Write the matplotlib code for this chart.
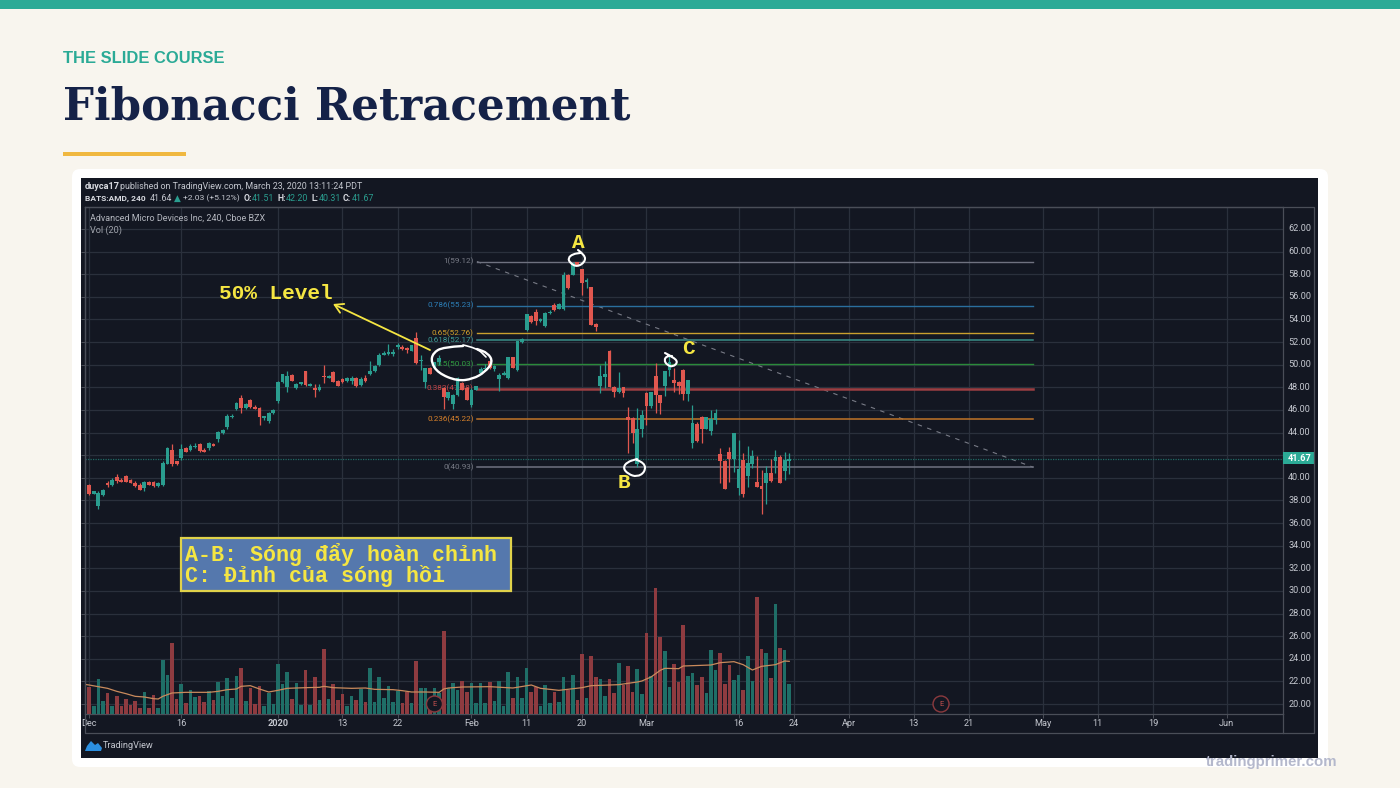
"""Fibonacci retracement slide: AMD 240 candles with fib levels and volume pane"""

import matplotlib
matplotlib.use("Agg")
import matplotlib.pyplot as plt
from matplotlib.patches import FancyBboxPatch, PathPatch, Polygon, Rectangle, Circle
from matplotlib.path import Path

# candles, one (open, high, low, close) per 240 bar
OPENS = [39.3, 39.4, 38.6, 37.5, 38.5, 39.55, 39.4, 40.05, 39.85, 40.2, 39.8, 39.55, 39.4, 39.1, 39.6, 39.6, 39.3, 39.35,
         41.25, 42.5, 41.45, 41.75, 42.6, 42.5, 42.75, 42.95, 42.5, 42.65, 43.0, 43.4, 43.95, 44.5, 45.35, 46.1, 47.05,
         46.2, 46.9, 46.3, 46.2, 45.3, 45.0, 45.7, 46.75, 48.45, 48.05, 49.1, 47.95, 48.25, 49.4, 48.15, 47.95, 47.8,
         49.0, 48.85, 49.35, 48.55, 48.75, 48.6, 48.6, 48.8, 48.2, 48.85, 49.15, 49.4, 50.0, 50.9, 50.95, 50.95, 51.55,
         51.6, 51.5, 51.25, 52.35, 50.3, 48.5, 49.7, 49.7, 50.2, 47.95, 47.05, 46.5, 47.3, 48.4, 47.95, 46.4, 47.8,
         49.25, 49.6, 50.35, 49.65, 48.75, 49.1, 48.85, 50.65, 49.5, 52.0, 53.1, 54.3, 54.65, 53.85, 53.4, 54.55, 55.3,
         54.95, 54.95, 57.9, 57.95, 59.1, 58.45, 57.3, 56.85, 53.6, 48.1, 48.95, 51.25, 48.05, 47.55, 48.0, 45.4, 45.25,
         41.2, 44.3, 47.5, 46.35, 49.0, 47.3, 48.15, 49.5, 48.65, 48.5, 49.55, 47.45, 43.1, 44.8, 45.4, 44.35, 44.15,
         45.1, 42.1, 41.5, 42.25, 41.65, 39.1, 41.6, 40.15, 41.2, 39.65, 39.3, 39.5, 40.4, 41.5, 41.85, 40.6, 41.51]
HIGHS = [39.5, 39.45, 38.8, 38.8, 39.05, 39.75, 39.95, 40.3, 39.95, 40.25, 39.9, 39.7, 39.5, 39.75, 39.7, 39.7, 39.6, 41.5,
         42.7, 43.0, 41.5, 42.95, 42.7, 43.0, 43.1, 43.1, 42.6, 43.15, 43.1, 44.1, 44.3, 45.6, 45.6, 46.7, 47.35,
         46.6, 47.0, 46.4, 46.3, 45.5, 45.85, 46.05, 48.55, 49.2, 49.4, 49.2, 48.4, 48.5, 49.45, 48.35, 48.25, 48.3,
         50.0, 49.1, 49.4, 48.65, 48.85, 48.95, 49.0, 48.95, 48.9, 49.05, 50.3, 49.95, 51.0, 51.2, 51.85, 51.4, 51.9,
         51.7, 51.6, 51.75, 52.9, 50.9, 49.75, 49.8, 50.25, 50.9, 48.05, 47.6, 47.4, 48.9, 48.5, 48.0, 47.9, 48.15,
         49.8, 50.05, 50.45, 49.95, 49.25, 49.4, 50.7, 50.7, 52.1, 52.35, 54.5, 54.4, 54.9, 54.1, 54.7, 54.8, 55.45,
         55.45, 58.15, 58.0, 59.0, 59.12, 58.5, 57.7, 56.9, 53.65, 50.0, 50.3, 51.3, 48.1, 49.35, 48.05, 46.3, 45.35,
         46.15, 46.0, 47.55, 47.55, 50.15, 47.35, 49.4, 50.75, 49.7, 48.55, 49.6, 48.65, 46.45, 44.9, 45.45, 45.4, 46.0,
         46.05, 42.6, 41.55, 42.75, 44.0, 43.3, 42.15, 42.85, 42.45, 41.95, 40.7, 41.05, 41.65, 42.5, 42.0, 42.3, 42.2]
LOWS = [39.2, 38.5, 38.55, 37.25, 38.35, 39.15, 39.25, 39.55, 39.6, 39.6, 39.5, 39.15, 38.9, 38.8, 39.35, 39.2, 39.2, 39.3,
        41.2, 41.0, 41.15, 41.6, 42.25, 42.4, 42.6, 42.3, 42.25, 42.5, 42.8, 43.15, 43.85, 44.35, 45.3, 46.0, 45.75,
        46.1, 46.15, 46.05, 44.65, 45.1, 44.85, 45.65, 46.6, 48.4, 47.6, 48.55, 47.85, 48.2, 48.15, 48.1, 47.1, 47.65,
        48.4, 48.8, 48.45, 48.1, 48.4, 48.5, 48.3, 48.05, 48.1, 48.5, 49.05, 49.35, 49.85, 50.85, 50.9, 50.8, 51.4,
        51.3, 51.0, 51.2, 50.05, 49.55, 47.95, 49.2, 49.65, 49.95, 46.1, 46.9, 46.1, 47.25, 47.75, 46.85, 46.3, 47.75,
        49.15, 49.5, 49.6, 49.4, 47.7, 49.05, 48.7, 49.7, 49.4, 51.95, 53.0, 53.7, 53.5, 53.8, 53.3, 54.5, 54.75,
        54.9, 54.85, 56.65, 57.9, 58.8, 56.15, 56.8, 53.5, 53.0, 47.5, 47.95, 48.0, 47.1, 47.5, 47.15, 42.2, 43.05,
        40.93, 43.65, 44.65, 46.15, 45.7, 45.6, 47.2, 49.0, 47.6, 47.45, 46.9, 46.8, 42.6, 43.2, 43.05, 44.3, 43.75,
        44.8, 39.5, 39.0, 39.65, 40.55, 38.5, 38.3, 39.2, 40.85, 39.15, 36.8, 37.7, 39.65, 40.4, 39.55, 39.8, 40.31]
CLOSES = [39.4, 38.6, 38.8, 38.65, 38.95, 39.35, 39.85, 39.7, 39.65, 39.65, 39.55, 39.3, 38.95, 39.65, 39.4, 39.3, 39.55, 41.3,
          42.65, 41.2, 41.2, 42.55, 42.3, 42.8, 42.85, 42.4, 42.3, 43.05, 42.85, 44.05, 44.25, 45.45, 45.5, 46.6, 46.2,
          46.55, 46.25, 46.1, 45.35, 45.45, 45.7, 46.0, 48.45, 49.15, 49.0, 48.6, 48.3, 48.45, 48.2, 48.3, 47.8, 48.0,
          48.9, 49.0, 48.5, 48.15, 48.5, 48.85, 48.85, 48.1, 48.7, 48.55, 49.4, 49.85, 50.9, 51.05, 51.1, 51.1, 51.7,
          51.35, 51.3, 51.7, 50.15, 50.45, 49.7, 49.2, 50.2, 50.6, 47.15, 47.55, 47.35, 48.8, 47.8, 46.9, 47.8, 48.1,
          49.6, 49.75, 49.7, 49.85, 49.1, 49.3, 50.65, 49.7, 52.05, 52.3, 54.45, 53.8, 53.85, 54.0, 54.6, 54.7, 54.8,
          55.4, 57.9, 56.8, 59.0, 58.85, 57.2, 57.45, 53.55, 53.3, 49.0, 49.2, 48.05, 47.6, 47.95, 47.5, 45.1, 44.0,
          44.3, 45.55, 46.35, 47.55, 47.3, 46.65, 49.4, 50.2, 48.4, 48.15, 47.45, 48.65, 44.85, 43.25, 44.3, 45.35, 45.2,
          45.75, 41.45, 39.0, 41.65, 43.95, 40.75, 38.55, 41.3, 41.9, 39.2, 39.05, 40.4, 39.7, 41.8, 39.55, 41.6, 41.67]

VOLUMES = [53, 81, 23, 106, 40, 63, 23, 53, 23, 46, 27, 40, 19, 66, 17, 57, 19, 163, 116, 212, 45, 90, 33, 73, 50, 55,
           37, 70, 43, 97, 53, 107, 47, 115, 139, 40, 78, 29, 83, 25, 62, 29, 151, 91, 126, 45, 92, 27, 131, 27, 111, 43,
           196, 45, 91, 41, 60, 25, 55, 42, 75, 35, 139, 35, 111, 49, 83, 35, 70, 33, 66, 33, 160, 78, 78, 28, 78, 63,
           248, 78, 93, 71, 98, 67, 93, 33, 93, 33, 96, 39, 99, 25, 125, 48, 111, 49, 139, 67, 81, 25, 87, 33, 66, 35,
           111, 71, 116, 43, 181, 47, 175, 111, 106, 55, 104, 62, 153, 87, 145, 67, 135, 61, 243, 113, 378, 231, 190, 82,
           151, 97, 267, 115, 123, 86, 112, 62, 192, 133, 183, 91, 148, 103, 116, 73, 173, 99, 351, 194, 183, 108, 331,
           198, 191, 91]

# Vol (20) average, read at these bars only
MA_BARS = [0, 1, 3, 5, 7, 9, 11, 13, 15, 16, 17, 19, 22, 27, 29, 31, 33, 34, 36, 38, 40, 42, 44, 48, 51, 52, 54, 58, 61,
           63, 67, 69, 71, 74, 77, 78, 79, 82, 88, 93, 97, 99, 103, 108, 110, 116, 120, 121, 123, 125, 126, 129, 130, 136,
           138, 141, 143, 145, 147, 150, 152, 153]
MA_VALUES = [89, 87, 82, 77, 68, 61, 53, 51, 46, 45, 53, 63, 65, 65, 68, 73, 75, 83, 85, 75, 66, 71, 77, 79, 80, 83, 79,
             77, 78, 74, 73, 70, 66, 66, 65, 75, 78, 81, 82, 78, 87, 77, 71, 79, 85, 88, 96, 99, 111, 131, 137, 136, 144,
             147, 154, 157, 148, 132, 143, 148, 159, 158]

# fibonacci tool
FIB_RATIOS = ["1", "0.786", "0.65", "0.618", "0.5", "0.382", "0.236", "0"]
FIB_PRICES = [59.12, 55.23, 52.76, 52.17, 50.03, 47.88, 45.22, 40.93]
FIB_COLORS = ["#6F7280", "#2A6F9E", "#C9A02E", "#3A8F88", "#2A8A3A", "#9C3E42", "#C07428", "#6F7280"]
FIB_LABEL_COLORS = ["#787B86", "#2C7FB8", "#D4A12A", "#3F9D96", "#2F9E3F", "#C8474A", "#D9822B", "#787B86"]
FIB_WIDTHS = [1.0, 1.0, 1.0, 1.1, 1.0, 1.8, 1.1, 1.1]
FIB_START = 85.2
FIB_END = 206

LAST_PRICE = 41.67

# time axis
TIME_BARS = [1, 21, 42, 56, 68, 84, 96, 108, 122, 142, 154, 166, 180, 192, 208, 220, 232, 248]
TIME_LABELS = ["Dec", "16", "2020", "13", "22", "Feb", "11", "20", "Mar", "16", "24", "Apr", "13", "21", "May", "11", "19", "Jun"]
BOLD_TIME = ["2020"]
EARNINGS_BARS = [76, 186]

PRICE_TICKS = [20, 22, 24, 26, 28, 30, 32, 34, 36, 38, 40, 42, 44, 46, 48, 50, 52, 54, 56, 58, 60, 62]
# the last price tag sits on top of this one
HIDDEN_PRICE_LABEL = 42

BG = "#F8F5EE"
TEAL = "#2BAA96"
NAVY = "#152248"
GOLD = "#F0B840"
PANEL = "#131722"
GRID = "#2A303C"
FRAME = "#4A4E58"
UP = "#2A9D8F"
DOWN = "#E0574F"
UP_VOL = "#1F6E67"
DOWN_VOL = "#8E3B40"
YELLOW = "#F5E642"
UI_FONT = ["Roboto", "DejaVu Sans"]
MONO_FONT = ["Liberation Mono", "DejaVu Sans Mono"]
UI_SIZE = 6.6

W, H = 1400, 788
fig = plt.figure(figsize=(W / 100, H / 100), dpi=100, facecolor=BG)


def px_axes(left, top, right, bottom, zorder):
    return fig.add_axes([left / W, 1 - bottom / H, (right - left) / W, (bottom - top) / H], zorder=zorder)


def sketch(axes, points, lw):
    # hand-drawn stroke, quadratic curves through the midpoints
    verts = [points[0]]
    codes = [Path.MOVETO]
    for k in range(1, len(points) - 1):
        mid = ((points[k][0] + points[k + 1][0]) / 2, (points[k][1] + points[k + 1][1]) / 2)
        verts += [points[k], mid]
        codes += [Path.CURVE3, Path.CURVE3]
    verts.append(points[-1])
    codes.append(Path.LINETO)
    axes.add_patch(PathPatch(Path(verts, codes), fc="none", ec="white", lw=lw, capstyle="round"))


# page furniture and every hand-drawn note sit on a pixel-sized backdrop
page = px_axes(0, 0, W, H, 0)
page.set_xlim(0, W)
page.set_ylim(H, 0)
page.axis("off")
page.add_patch(Rectangle((0, 0), W, 9, color=TEAL, lw=0))
page.add_patch(Rectangle((63, 152), 123, 4, color=GOLD, lw=0))
page.add_patch(FancyBboxPatch((80, 177), 1240, 582, boxstyle="round,pad=8,rounding_size=8", fc="white", ec="none"))
page.add_patch(Rectangle((81, 178), 1237, 580, color=PANEL, lw=0))
page.text(63, 58, "THE SLIDE COURSE", color=TEAL, fontsize=11.9, fontweight="bold", family="Liberation Sans", va="center")
page.text(63, 107, "Fibonacci Retracement", color=NAVY, fontsize=31.4, fontweight="bold", family="DejaVu Serif", va="center")

# header lines of the screenshot
page.text(85, 186, "duyca17", color="#d8dae0", fontsize=UI_SIZE, fontweight="bold", family=UI_FONT, va="center")
page.text(120, 186, "published on TradingView.com, March 23, 2020 13:11:24 PDT", color="#c4c7cf", fontsize=6.4, family=UI_FONT, va="center")
header_bits = [(85, "BATS:AMD, 240", "#d8dae0", "bold", 6.0), (150, "41.64", "#c4c7cf", "normal", 6.4), (174, "\u25b2", UP, "normal", 6.4),
               (183, "+2.03 (+5.12%)", "#c4c7cf", "normal", 6.1), (243.5, "O:", "#d8dae0", "bold", 6.2), (252, "41.51", UP, "normal", 6.4),
               (277, "H:", "#d8dae0", "bold", 6.2), (286, "42.20", UP, "normal", 6.4), (311, "L:", "#d8dae0", "bold", 6.2),
               (319, "40.31", UP, "normal", 6.4), (343, "C:", "#d8dae0", "bold", 6.2), (352, "41.67", UP, "normal", 6.4)]
for x, label, color, weight, size in header_bits:
    page.text(x, 198, label, color=color, fontsize=size, fontweight=weight, family=UI_FONT, va="center")

# main price pane
ax = px_axes(85, 207, 1283, 714, 2)
ax.set_facecolor(PANEL)
ax.set_xlim(0.11, 260.2)
ax.set_ylim(19.12, 63.94)
for side in ax.spines.values():
    side.set_color(FRAME)
    side.set_linewidth(0.9)
ax.set_xticks(TIME_BARS)
ax.set_xticklabels([])
ax.set_yticks(PRICE_TICKS)
ax.set_yticklabels([])
ax.tick_params(axis="both", color=FRAME, length=3, width=0.7)
ax.yaxis.tick_right()
ax.grid(True, color=GRID, lw=0.9)
ax.set_axisbelow(True)

# fib levels first, candles over them
ax.plot([FIB_START, FIB_END], [FIB_PRICES[0], FIB_PRICES[-1]], color="#787b86", lw=0.8, ls=(0, (4, 5)))
for ratio, price, color, label_color, width in zip(FIB_RATIOS, FIB_PRICES, FIB_COLORS, FIB_LABEL_COLORS, FIB_WIDTHS):
    ax.plot([FIB_START, FIB_END], [price, price], color=color, lw=width)
    ax.text(FIB_START - 0.7, price, f"{ratio}({price:.2f})", color=label_color, fontsize=5.9, ha="right", va="center", family=UI_FONT)

ax.axhline(LAST_PRICE, color="#1F6A64", lw=0.9, ls=(0, (1, 1)))

# volume pane shares the frame, scale is its own
vol_ax = ax.twinx()
vol_ax.set_ylim(0, 1521)
vol_ax.axis("off")
for i, volume in enumerate(VOLUMES):
    color = UP_VOL if CLOSES[i] >= OPENS[i] else DOWN_VOL
    vol_ax.bar(i, volume, width=0.78, color=color, lw=0)
vol_ax.plot(MA_BARS, MA_VALUES, color="#C98A5C", lw=0.9)

candle_ax = ax.twinx()
candle_ax.set_ylim(ax.get_ylim())
candle_ax.axis("off")
for i in range(len(OPENS)):
    color = UP if CLOSES[i] >= OPENS[i] else DOWN
    candle_ax.plot([i, i], [LOWS[i], HIGHS[i]], color=color, lw=0.9, solid_capstyle="butt")
    candle_ax.bar(i, abs(CLOSES[i] - OPENS[i]), bottom=min(OPENS[i], CLOSES[i]), width=0.82, color=color, lw=0)

# axis labels
for price in PRICE_TICKS:
    if price == HIDDEN_PRICE_LABEL:
        continue
    ax.annotate(f"{price:.2f}", (1, price), xycoords=("axes fraction", "data"), xytext=(3.8, 0), textcoords="offset points",
                color="#c4c7cf", fontsize=UI_SIZE, va="center", family=UI_FONT, annotation_clip=False)
for bar, label in zip(TIME_BARS, TIME_LABELS):
    weight = "bold" if label in BOLD_TIME else "normal"
    ax.annotate(label, (bar, 0), xycoords=("data", "axes fraction"), xytext=(0, -7), textcoords="offset points", ha="center",
                va="center", color="#c4c7cf", fontsize=UI_SIZE, fontweight=weight, family=UI_FONT, annotation_clip=False)

# everything above the chart goes on a transparent pixel overlay
over = px_axes(0, 0, W, H, 5)
over.set_xlim(0, W)
over.set_ylim(H, 0)
over.axis("off")
over.patch.set_alpha(0)

# last price tag
over.add_patch(Rectangle((1283, 452), 31, 12, color=TEAL, lw=0, zorder=1))
over.text(1288, 458, f"{LAST_PRICE:.2f}", color="white", fontsize=UI_SIZE, fontweight="bold", va="center", family=UI_FONT, zorder=2)

# outer frame of the TradingView widget
over.plot([85, 85, 1314, 1314, 85], [207, 733, 733, 207, 207], color=FRAME, lw=0.9)
over.plot([1283, 1283], [714, 733], color=FRAME, lw=0.9)

over.text(90.5, 218, "Advanced Micro Devices Inc, 240, Cboe BZX", color="#b4b7bf", fontsize=6.5, va="center", family=UI_FONT)
over.text(90.5, 230, "Vol (20)", color="#a0a3ab", fontsize=UI_SIZE, va="center", family=UI_FONT)

# earnings markers
for bar in EARNINGS_BARS:
    cx = 84.5 + 4.605 * bar
    over.add_patch(Circle((cx, 704), 8, fc=PANEL, ec="#8C3A3E", lw=1))
    over.text(cx, 704, "E", color="#C0504F", fontsize=5.5, ha="center", va="center", family=UI_FONT)

# logo
over.add_patch(Polygon([(85, 751), (87, 746), (91, 741), (95, 745), (98, 743), (102, 748), (101, 751)], color="#2B8FE0", lw=0))
over.text(103, 746, "TradingView", color="#c4c7cf", fontsize=UI_SIZE, va="center", family=UI_FONT)

# hand notes
over.text(219, 293, "50% Level", color=YELLOW, fontsize=15.2, fontweight="bold", va="center", family=MONO_FONT)
over.annotate("", xy=(333, 304), xytext=(430, 350),
              arrowprops=dict(arrowstyle="->,head_length=0.6,head_width=0.35", color=YELLOW, lw=1.3, shrinkA=0, shrinkB=0))
over.text(578, 242, "A", color=YELLOW, fontsize=15.2, fontweight="bold", ha="center", va="center", family=MONO_FONT)
over.text(624, 482, "B", color=YELLOW, fontsize=15.2, fontweight="bold", ha="center", va="center", family=MONO_FONT)
over.text(688, 348, "C", color=YELLOW, fontsize=15.2, fontweight="bold", ha="center", va="center", family=MONO_FONT)

sketch(over, [(463, 346), (443, 347), (433, 353), (431, 362), (438, 373), (457, 381), (473, 379), (485, 372), (493, 362), (488, 353), (477, 349)], 1.7)
sketch(over, [(463, 345), (477, 348), (486, 357)], 1.2)
sketch(over, [(578, 250), (585, 255), (585, 262), (577, 267), (570, 263), (568, 258), (573, 254), (580, 253)], 1.5)
sketch(over, [(637, 460), (645, 463), (645, 472), (637, 477), (628, 474), (623, 468), (627, 462), (637, 459)], 1.5)
sketch(over, [(665, 353), (673, 357), (678, 362), (673, 367), (667, 365), (664, 360), (667, 356), (672, 356)], 1.5)

over.add_patch(Rectangle((181, 538), 330, 53, fc="#5578AD", ec="#E0D24A", lw=1.6))
over.text(185, 554, "A-B: S\u00f3ng \u0111\u1ea9y ho\u00e0n ch\u1ec9nh", color=YELLOW, fontsize=15.6, fontweight="bold", va="center", family=MONO_FONT)
over.text(185, 576, "C: \u0110\u1ec9nh c\u1ee7a s\u00f3ng h\u1ed3i", color=YELLOW, fontsize=15.6, fontweight="bold", va="center", family=MONO_FONT)

over.text(1337, 762, "tradingprimer.com", color="#B4B8CC", fontsize=10.8, fontweight="bold", ha="right", va="center", family="Liberation Sans")

fig.savefig("out.png", dpi=100, facecolor=BG)
